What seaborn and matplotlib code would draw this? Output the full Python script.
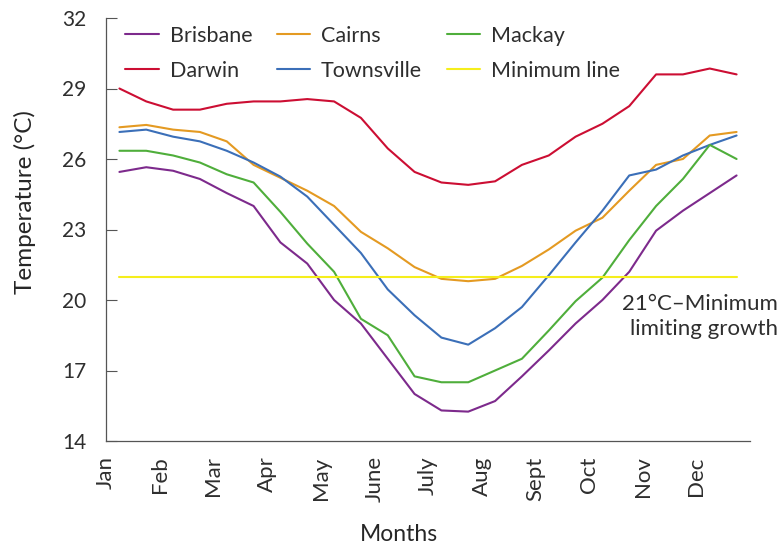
import numpy as np
import pandas as pd
import seaborn as sns
import matplotlib.pyplot as plt

# half-monthly mean temperatures (°C)
brisbane = [25.45, 25.65, 25.5, 25.15, 24.55, 24.0, 22.45, 21.55, 20.0, 19.0, 17.5, 16.0,
            15.3, 15.25, 15.7, 16.75, 17.85, 19.0, 20.0, 21.2, 22.95, 23.8, 24.55, 25.3]
cairns = [27.35, 27.45, 27.25, 27.15, 26.75, 25.75, 25.2, 24.65, 24.0, 22.9, 22.2, 21.4,
          20.9, 20.8, 20.9, 21.45, 22.15, 22.95, 23.5, 24.65, 25.75, 26.0, 27.0, 27.15]
mackay = [26.35, 26.35, 26.15, 25.85, 25.35, 25.0, 23.75, 22.4, 21.2, 19.2, 18.5, 16.75,
          16.5, 16.5, 17.0, 17.5, 18.7, 19.95, 20.95, 22.55, 24.0, 25.15, 26.6, 26.0]
darwin = [29.0, 28.45, 28.1, 28.1, 28.35, 28.45, 28.45, 28.55, 28.45, 27.75, 26.45, 25.45,
          25.0, 24.9, 25.05, 25.75, 26.15, 26.95, 27.5, 28.25, 29.6, 29.6, 29.85, 29.6]
townsville = [27.15, 27.25, 26.95, 26.75, 26.35, 25.85, 25.25, 24.4, 23.2, 22.0, 20.45, 19.35,
              18.4, 18.1, 18.8, 19.7, 21.05, 22.45, 23.8, 25.3, 25.55, 26.15, 26.6, 27.0]
minimum = [21.0] * 24

months = ['Jan', 'Feb', 'Mar', 'Apr', 'May', 'June', 'July', 'Aug', 'Sept', 'Oct', 'Nov', 'Dec']
yticks = [14, 17, 20, 23, 26, 29, 32]

series = {'Brisbane': brisbane, 'Darwin': darwin, 'Cairns': cairns,
          'Townsville': townsville, 'Mackay': mackay, 'Minimum line': minimum}
colors = {'Brisbane': '#7d2a8c', 'Darwin': '#cc0e33', 'Cairns': '#e49a22',
          'Townsville': '#3b6fb8', 'Mackay': '#4fae3b', 'Minimum line': '#f5ee1c'}

pos = np.arange(24) + 0.5  # two readings per month
df = pd.concat([pd.DataFrame({'pos': pos, 'temp': v, 'city': k}) for k, v in series.items()])

sns.set_style('white')
plt.rcParams['font.family'] = ['Lato', 'DejaVu Sans']
plt.rcParams['text.color'] = '#2e2e2e'

fig = plt.figure(figsize=(7.81, 5.47), dpi=100)
ax = fig.add_axes([106 / 781, 1 - 441 / 547, 644 / 781, 423 / 547])

sns.lineplot(data=df, x='pos', y='temp', hue='city', hue_order=list(series),
             palette=colors, linewidth=1.5, ax=ax)

ax.set_xlim(0, 24)
ax.set_ylim(14, 32)
ax.set_yticks(yticks)
ax.set_xticks(np.arange(0, 24, 2))
ax.set_xticklabels(months, rotation=90)
ax.set_xticks(np.arange(1, 25), minor=True)
ax.tick_params(axis='x', which='major', length=0, pad=11, labelsize=16, labelcolor='#2e2e2e')
ax.tick_params(axis='x', which='minor', direction='in', length=5, width=0.8, color='#555555')
ax.tick_params(axis='y', direction='in', length=8, width=0.8, color='#555555',
               pad=14, labelsize=15, labelcolor='#2e2e2e', left=True)
for s in ['top', 'right']:
    ax.spines[s].set_visible(False)
for s in ['left', 'bottom']:
    ax.spines[s].set_color('#555555')
    ax.spines[s].set_linewidth(0.9)

ax.set_xlabel('Months', fontsize=16.5)
ax.set_ylabel('Temperature (°C)', fontsize=17.5)
ax.xaxis.set_label_coords(0.455, -0.197)
ax.yaxis.set_label_coords(-0.108, 0.565)

h, l = ax.get_legend_handles_labels()
ax.legend(h, l, ncol=3, frameon=False, loc='upper left', bbox_to_anchor=(0.0, 1.027),
          fontsize=15.5, handlelength=1.55, labelspacing=0.68, columnspacing=1.15,
          handletextpad=0.5)

ax.text(25.05, 19.3, '21°C–Minimum\nlimiting growth', ha='right', va='center',
        fontsize=16, linespacing=1.3, clip_on=False)

fig.savefig('out.png', dpi=100)
